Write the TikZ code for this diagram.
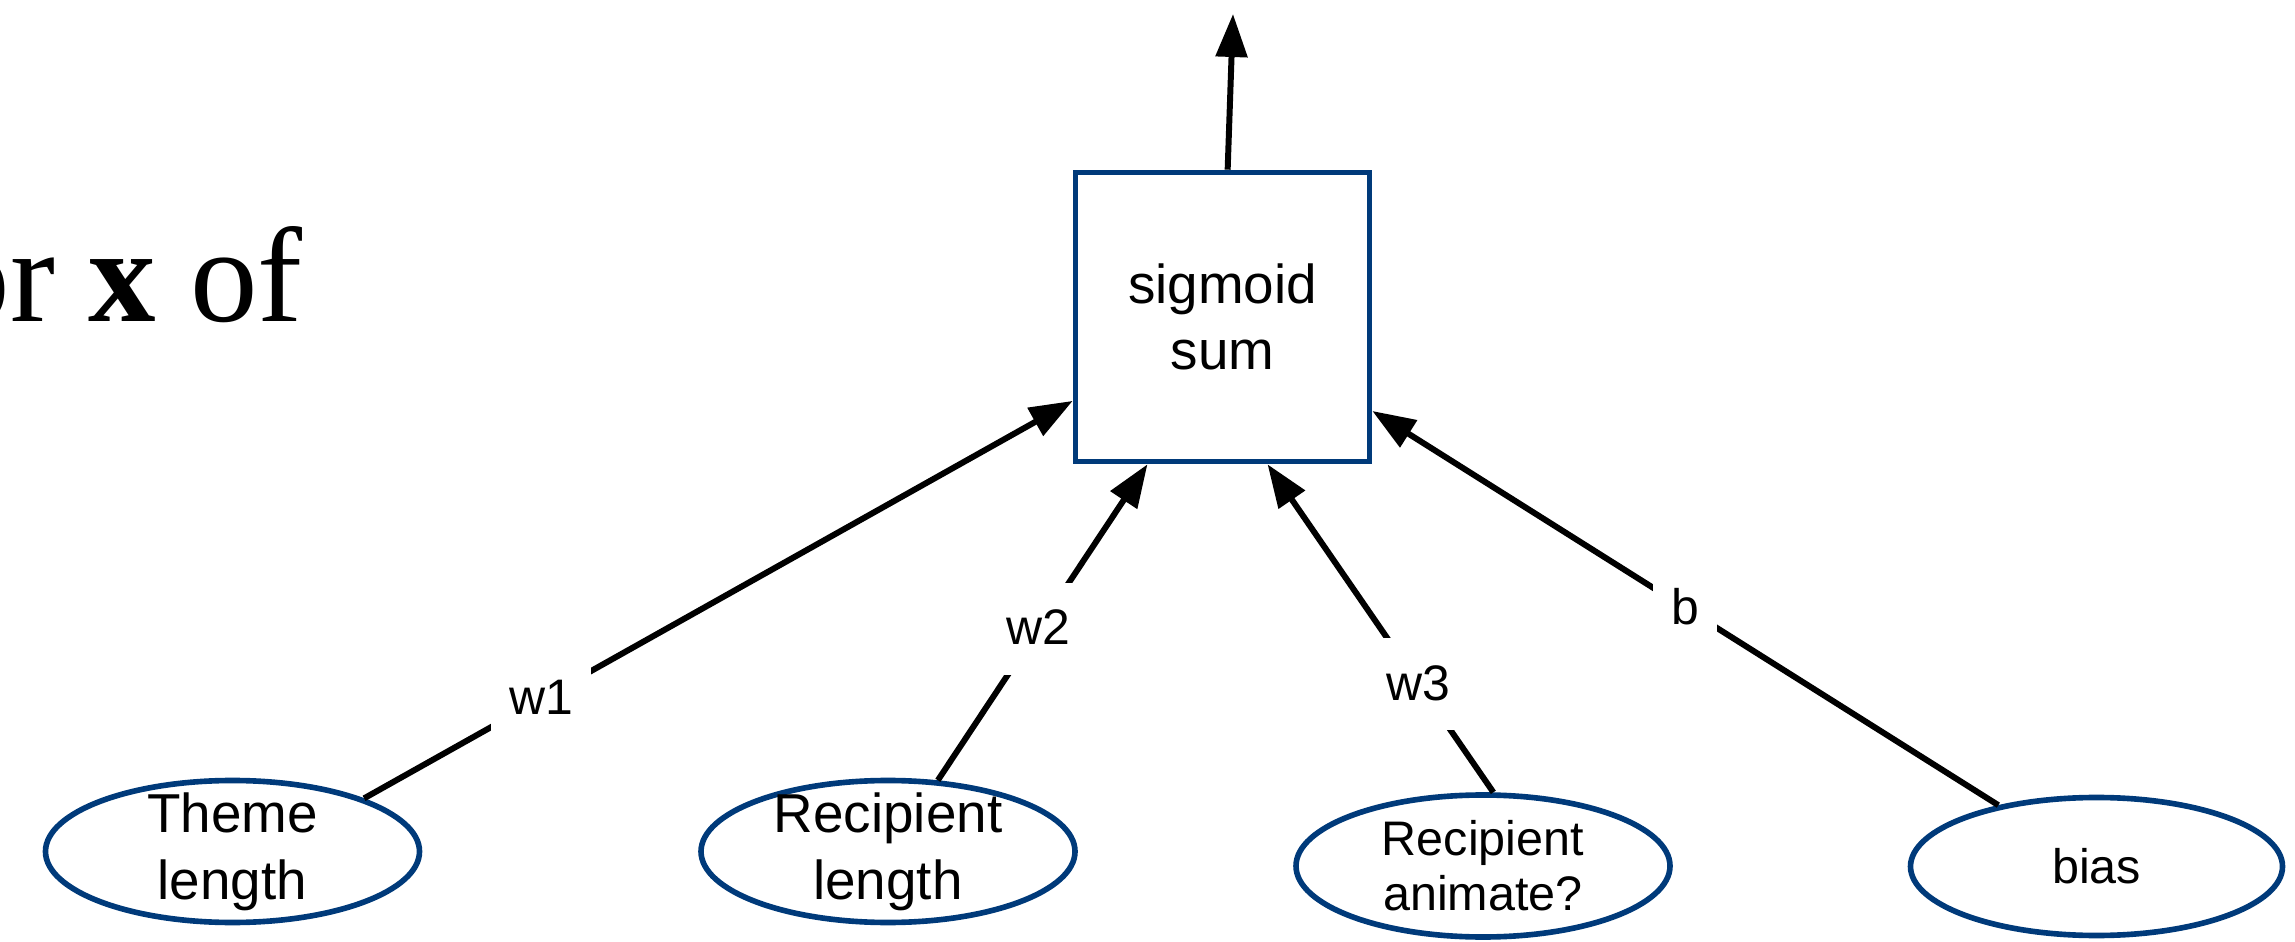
\documentclass[tikz,border=0pt]{standalone}
\usepackage{fontspec}
\setmainfont{Liberation Sans}
\newfontfamily\slidefont{Liberation Serif}
\usetikzlibrary{shapes.geometric,arrows.meta}
\definecolor{nodeblue}{RGB}{0,58,122}

\begin{document}
\begin{tikzpicture}[
        inputnode/.style = {ellipse, draw=nodeblue, line width=1.6pt, inner xsep=0pt, inner ysep=-0.15cm,
            minimum width=3.74cm, minimum height=1.42cm, align=center, font=\fontsize{15.6}{19}\selectfont},
        sumnode/.style = {rectangle, draw=nodeblue, line width=1.6pt, minimum width=2.94cm,
            minimum height=2.89cm, align=center, font=\fontsize{15.6}{19}\selectfont},
        weight/.style = {fill=white, inner sep=0.18cm, text height=0.44cm, text depth=0.12cm,
            font=\fontsize{14.2}{17}\selectfont},
        edge/.style = {-{Triangle[length=0.43cm,width=0.31cm]}, line width=1.7pt}
    ]
        \clip (0,0) rectangle (22.95,-9.42);
        % cut-off slide text on the left
        \node[anchor=base west, inner sep=0pt, font=\slidefont\fontsize{38.4}{46}\selectfont] (title) at (-0.58,-3.22) {or \textbf{x} of};
        % unit and inputs
        \node[sumnode] (sum) at (12.225,-3.17) {sigmoid\\sum};
        \node[inputnode] (theme) at (2.325,-8.515) {Theme\\length};
        \node[inputnode] (rlen) at (8.88,-8.515) {Recipient\\length};
        \node[inputnode, font=\fontsize{13.8}{15.6}\selectfont] (ranim) at (14.83,-8.66) {Recipient\\animate?};
        \node[inputnode, minimum width=3.72cm, minimum height=1.38cm, font=\fontsize{13.8}{15.6}\selectfont] (bias) at (20.965,-8.665) {bias};
        \coordinate (out) at (12.33,-0.14);
        % weighted connections
        \draw[edge] (theme.22) -- node[weight, pos=0.25] (w1) {w1} (sum);
        \draw[edge] (rlen.55) -- node[weight, pos=0.48] (w2) {w2} (sum.243);
        \draw[edge] (ranim.82) -- node[weight, pos=0.33] (w3) {w3} (sum.287);
        \draw[edge] (bias.148) -- node[weight, pos=0.5] (wb) {b} (sum);
        \draw[edge] (sum.88) -- (out);
    \end{tikzpicture}
\end{document}
